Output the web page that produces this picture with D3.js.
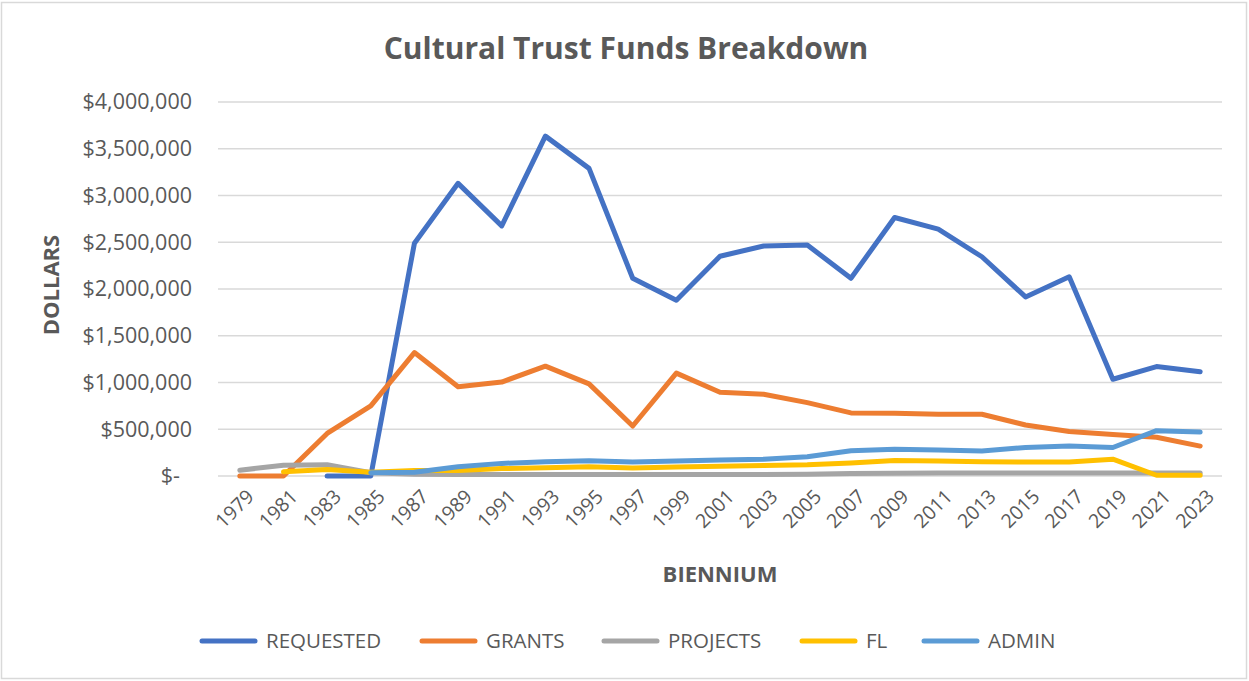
<!DOCTYPE html>
<html>
<head>
<meta charset="utf-8">
<script src="https://cdn.jsdelivr.net/npm/d3@7"></script>
<style>
  body { margin: 0; background: #fff; }
  svg { display: block; font-family: "Open Sans", sans-serif; }
</style>
</head>
<body>
<svg width="1249" height="681"></svg>
<script>
// biennium years
var years = [1979, 1981, 1983, 1985, 1987, 1989, 1991, 1993, 1995, 1997, 1999, 2001,
             2003, 2005, 2007, 2009, 2011, 2013, 2015, 2017, 2019, 2021, 2023];

// series values (null = no value)
var requested = [null, null, 0, 0, 2490000, 3130000, 2675000, 3635000, 3290000, 2115000, 1880000, 2350000,
                 2460000, 2470000, 2115000, 2765000, 2640000, 2345000, 1915000, 2130000, 1035000, 1170000, 1115000];
var grants    = [0, 0, 455000, 750000, 1320000, 955000, 1005000, 1175000, 985000, 535000, 1100000, 895000,
                 875000, 785000, 675000, 670000, 660000, 660000, 545000, 475000, 445000, 415000, 320000];
var projects  = [62000, 115000, 120000, 35000, 18000, 15000, 15000, 15000, 15000, 15000, 15000, 15000,
                 15000, 20000, 28000, 30000, 32000, 32000, 32000, 32000, 32000, 32000, 32000];
var fl        = [null, 45000, 70000, 40000, 58000, 58000, 80000, 88000, 98000, 85000, 95000, 105000,
                 112000, 120000, 140000, 165000, 160000, 152000, 150000, 150000, 180000, 8000, 8000];
var admin     = [null, null, null, 35000, 40000, 100000, 135000, 152000, 162000, 150000, 160000, 172000,
                 180000, 205000, 270000, 285000, 278000, 268000, 305000, 320000, 305000, 485000, 470000];

var seriesNames  = ["REQUESTED", "GRANTS", "PROJECTS", "FL", "ADMIN"];
var seriesValues = [requested, grants, projects, fl, admin];
var seriesColors = ["#4472C4", "#ED7D31", "#A5A5A5", "#FFC000", "#5B9BD5"];

var yTicks = [0, 500000, 1000000, 1500000, 2000000, 2500000, 3000000, 3500000, 4000000];

var margin = {top: 102, right: 27, bottom: 205, left: 218},
    width = 1249 - margin.left - margin.right,
    height = 681 - margin.top - margin.bottom;

var svg = d3.select("svg");

// chart border
svg.append("rect")
    .attr("x", 1.5).attr("y", 2.5)
    .attr("width", 1245).attr("height", 676)
    .attr("fill", "none")
    .attr("stroke", "#d9d9d9")
    .attr("stroke-width", 1.5);

// title
svg.append("text")
    .attr("x", 626).attr("y", 59)
    .attr("text-anchor", "middle")
    .style("font-size", "30px")
    .style("font-weight", "bold")
    .style("fill", "#595959")
    .text("Cultural Trust Funds Breakdown");

var g = svg.append("g")
    .attr("transform", "translate(" + margin.left + "," + margin.top + ")");

var x = d3.scalePoint()
    .domain(years)
    .range([0, width])
    .padding(0.5);
var y = d3.scaleLinear()
    .domain([0, 4000000])
    .range([height, 0]);

// gridlines
g.append("g")
    .selectAll("line")
    .data(yTicks)
  .enter().append("line")
    .attr("x1", 0).attr("x2", width)
    .attr("y1", function(d) { return y(d); })
    .attr("y2", function(d) { return y(d); })
    .attr("stroke", "#d9d9d9")
    .attr("stroke-width", 1.5);

// y axis
var yAxis = g.append("g")
    .call(d3.axisLeft(y).tickValues(yTicks).tickSize(0).tickPadding(26)
        .tickFormat(function(d) { return d === 0 ? "$-" : d3.format("$,")(d); }));
yAxis.select(".domain").remove();
yAxis.selectAll("text")
    .style("font-size", "21.5px")
    .style("fill", "#595959")
    .style("font-family", "Open Sans, sans-serif")
    .attr("dx", function(d) { return d === 0 ? -12 : 0; });

// x axis
var xAxis = g.append("g")
    .attr("transform", "translate(0," + height + ")")
    .call(d3.axisBottom(x).tickSize(0));
xAxis.select(".domain").remove();
xAxis.selectAll("text")
    .style("font-size", "19.5px")
    .style("fill", "#595959")
    .style("font-family", "Open Sans, sans-serif")
    .attr("text-anchor", "end")
    .attr("y", 0).attr("dy", "0.35em")
    .attr("transform", "translate(10,17) rotate(-45)");

// axis titles
svg.append("text")
    .attr("transform", "translate(59," + (margin.top + height / 2 - 4) + ") rotate(-90)")
    .attr("text-anchor", "middle")
    .style("font-size", "22px")
    .style("font-weight", "bold")
    .style("fill", "#595959")
    .text("DOLLARS");
svg.append("text")
    .attr("x", margin.left + width / 2).attr("y", 582)
    .attr("text-anchor", "middle")
    .style("font-size", "22px")
    .style("font-weight", "bold")
    .style("fill", "#595959")
    .text("BIENNIUM");

// lines
var line = d3.line()
    .defined(function(d) { return d.v !== null; })
    .x(function(d) { return x(d.year); })
    .y(function(d) { return y(d.v); });

seriesValues.forEach(function(vals, i) {
    var pts = years.map(function(yr, j) { return {year: yr, v: vals[j]}; });
    g.append("path")
        .datum(pts)
        .attr("fill", "none")
        .attr("stroke", seriesColors[i])
        .attr("stroke-width", 5)
        .attr("stroke-linejoin", "round")
        .attr("stroke-linecap", "round")
        .attr("d", line);
});

// legend
var legendX = [200, 420, 602, 800, 922];
var legend = svg.append("g")
    .selectAll("g")
    .data(seriesNames)
  .enter().append("g")
    .attr("transform", function(d, i) { return "translate(" + legendX[i] + ",641)"; });
legend.append("line")
    .attr("x1", 2).attr("x2", 55)
    .attr("y1", 0).attr("y2", 0)
    .attr("stroke", function(d, i) { return seriesColors[i]; })
    .attr("stroke-width", 5)
    .attr("stroke-linecap", "round");
legend.append("text")
    .attr("x", 66).attr("y", 0).attr("dy", "0.35em")
    .style("font-size", "20.5px")
    .style("fill", "#595959")
    .text(function(d) { return d; });
</script>
</body>
</html>
